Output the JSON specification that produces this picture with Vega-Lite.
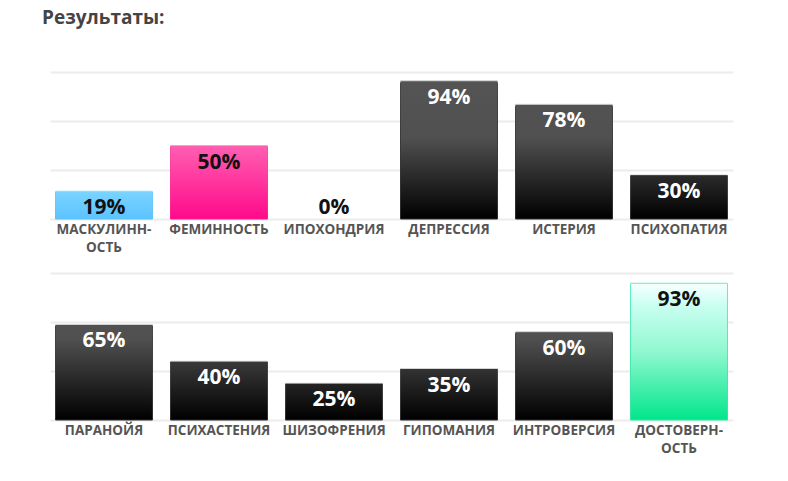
{
  "$schema": "https://vega.github.io/schema/vega-lite/v6.json",
  "padding": {"left": 42, "top": 9, "right": 10, "bottom": 5},
  "background": "white",
  "title": {"text": "Результаты:", "anchor": "start", "fontSize": 19, "font": "Open Sans", "fontWeight": "bold", "color": "#444444", "dx": -8, "offset": 44},
  "data": {"values": [
    {"row": 1, "name": "МАСКУЛИННОСТЬ", "value": 0.19},
    {"row": 1, "name": "ФЕМИННОСТЬ", "value": 0.50},
    {"row": 1, "name": "ИПОХОНДРИЯ", "value": 0.0},
    {"row": 1, "name": "ДЕПРЕССИЯ", "value": 0.94},
    {"row": 1, "name": "ИСТЕРИЯ", "value": 0.78},
    {"row": 1, "name": "ПСИХОПАТИЯ", "value": 0.30},
    {"row": 2, "name": "ПАРАНОЙЯ", "value": 0.65},
    {"row": 2, "name": "ПСИХАСТЕНИЯ", "value": 0.40},
    {"row": 2, "name": "ШИЗОФРЕНИЯ", "value": 0.25},
    {"row": 2, "name": "ГИПОМАНИЯ", "value": 0.35},
    {"row": 2, "name": "ИНТРОВЕРСИЯ", "value": 0.60},
    {"row": 2, "name": "ДОСТОВЕРНОСТЬ", "value": 0.93}
  ]},
  "vconcat": [
    {
      "width": 683, "height": 147,
      "transform": [{"filter": "datum.row == 1"}],
      "encoding": {
        "x": {"field": "name", "type": "nominal", "sort": ["МАСКУЛИННОСТЬ", "ФЕМИННОСТЬ", "ИПОХОНДРИЯ", "ДЕПРЕССИЯ", "ИСТЕРИЯ", "ПСИХОПАТИЯ"],
              "scale": {"domain": ["МАСКУЛИННОСТЬ", "ФЕМИННОСТЬ", "ИПОХОНДРИЯ", "ДЕПРЕССИЯ", "ИСТЕРИЯ", "ПСИХОПАТИЯ"], "paddingInner": 0.157, "paddingOuter": 0.048},
              "axis": {"title": null, "ticks": false, "domain": false, "labelAngle": 0, "labelFont": "Open Sans", "labelFontWeight": "bold", "labelFontSize": 13.5, "labelColor": "#555555", "labelPadding": 3, "labelLineHeight": 18,
                       "labelExpr": "datum.value == 'МАСКУЛИННОСТЬ' ? ['МАСКУЛИНН-', 'ОСТЬ'] : datum.value == 'ДОСТОВЕРНОСТЬ' ? ['ДОСТОВЕРН-', 'ОСТЬ'] : datum.value"}},
        "y": {"field": "value", "type": "quantitative", "scale": {"domain": [0, 1], "nice": false},
              "axis": {"title": null, "labels": false, "ticks": false, "domain": false, "values": [0, 0.33333, 0.66667, 1], "gridColor": "#ececec", "gridWidth": 2}}
      },
      "layer": [
        {
          "transform": [{"filter": "datum.value > 0"}],
          "mark": {"type": "bar", "strokeWidth": 1},
          "encoding": {
            "fill": {"condition": [
              {"test": "datum.name === 'МАСКУЛИННОСТЬ'", "value": {"gradient": "linear", "x1": 0, "y1": 0, "x2": 0, "y2": 1, "stops": [{"offset": 0, "color": "#7ad4ff"}, {"offset": 1, "color": "#5cc3ff"}]}},
              {"test": "datum.name === 'ФЕМИННОСТЬ'", "value": {"gradient": "linear", "x1": 0, "y1": 0, "x2": 0, "y2": 1, "stops": [{"offset": 0, "color": "#ff5fb2"}, {"offset": 1, "color": "#ff0a8a"}]}},
              {"test": "datum.name === 'ДЕПРЕССИЯ'", "value": {"gradient": "linear", "x1": 0, "y1": -0.0638, "x2": 0, "y2": 1, "stops": [{"offset": 0, "color": "#555555"}, {"offset": 0.45, "color": "#505050"}, {"offset": 1, "color": "#000000"}]}},
              {"test": "datum.name === 'ИСТЕРИЯ'", "value": {"gradient": "linear", "x1": 0, "y1": -0.2821, "x2": 0, "y2": 1, "stops": [{"offset": 0, "color": "#555555"}, {"offset": 0.45, "color": "#505050"}, {"offset": 1, "color": "#000000"}]}}
            ], "value": {"gradient": "linear", "x1": 0, "y1": -2.3333, "x2": 0, "y2": 1, "stops": [{"offset": 0, "color": "#555555"}, {"offset": 0.45, "color": "#505050"}, {"offset": 1, "color": "#000000"}]}},
            "stroke": {"condition": [
              {"test": "datum.name === 'МАСКУЛИННОСТЬ'", "value": {"gradient": "linear", "x1": 0, "y1": 0, "x2": 0, "y2": 1, "stops": [{"offset": 0, "color": "#c0ecff"}, {"offset": 0.05, "color": "#6ccdff"}, {"offset": 1, "color": "#5cc0f5"}]}},
              {"test": "datum.name === 'ФЕМИННОСТЬ'", "value": {"gradient": "linear", "x1": 0, "y1": 0, "x2": 0, "y2": 1, "stops": [{"offset": 0, "color": "#ff9acf"}, {"offset": 0.03, "color": "#ff4aa8"}, {"offset": 1, "color": "#ff1a90"}]}}
            ], "value": {"gradient": "linear", "x1": 0, "y1": 0, "x2": 0, "y2": 1, "stops": [{"offset": 0, "color": "#d8d8d8"}, {"offset": 0.02, "color": "#444444"}, {"offset": 1, "color": "#2a2a2a"}]}}
          }
        },
        {
          "transform": [{"filter": "datum.value > 0"}],
          "mark": {"type": "text", "baseline": "middle", "dy": 17, "fontSize": 21, "font": "Open Sans", "fontWeight": "bold"},
          "encoding": {
            "text": {"field": "value", "type": "quantitative", "format": ".0%"},
            "color": {"condition": {"test": "datum.name === 'МАСКУЛИННОСТЬ' || datum.name === 'ФЕМИННОСТЬ' || datum.name === 'ДОСТОВЕРНОСТЬ'", "value": "#111111"}, "value": "#ffffff"}
          }
        },
        {
          "transform": [{"filter": "datum.value == 0"}],
          "mark": {"type": "text", "baseline": "middle", "dy": -11, "fontSize": 21, "font": "Open Sans", "fontWeight": "bold", "color": "#111111"},
          "encoding": {
            "text": {"field": "value", "type": "quantitative", "format": ".0%"}
          }
        }
      ]
    },
    {
      "width": 683, "height": 147,
      "transform": [{"filter": "datum.row == 2"}],
      "encoding": {
        "x": {"field": "name", "type": "nominal", "sort": ["ПАРАНОЙЯ", "ПСИХАСТЕНИЯ", "ШИЗОФРЕНИЯ", "ГИПОМАНИЯ", "ИНТРОВЕРСИЯ", "ДОСТОВЕРНОСТЬ"],
              "scale": {"domain": ["ПАРАНОЙЯ", "ПСИХАСТЕНИЯ", "ШИЗОФРЕНИЯ", "ГИПОМАНИЯ", "ИНТРОВЕРСИЯ", "ДОСТОВЕРНОСТЬ"], "paddingInner": 0.157, "paddingOuter": 0.048},
              "axis": {"title": null, "ticks": false, "domain": false, "labelAngle": 0, "labelFont": "Open Sans", "labelFontWeight": "bold", "labelFontSize": 13.5, "labelColor": "#555555", "labelPadding": 3, "labelLineHeight": 18,
                       "labelExpr": "datum.value == 'МАСКУЛИННОСТЬ' ? ['МАСКУЛИНН-', 'ОСТЬ'] : datum.value == 'ДОСТОВЕРНОСТЬ' ? ['ДОСТОВЕРН-', 'ОСТЬ'] : datum.value"}},
        "y": {"field": "value", "type": "quantitative", "scale": {"domain": [0, 1], "nice": false},
              "axis": {"title": null, "labels": false, "ticks": false, "domain": false, "values": [0, 0.33333, 0.66667, 1], "gridColor": "#ececec", "gridWidth": 2}}
      },
      "layer": [
        {
          "transform": [{"filter": "datum.value > 0"}],
          "mark": {"type": "bar", "strokeWidth": 1},
          "encoding": {
            "fill": {"condition": [
              {"test": "datum.name === 'ДОСТОВЕРНОСТЬ'", "value": {"gradient": "linear", "x1": 0, "y1": 0, "x2": 0, "y2": 1, "stops": [{"offset": 0, "color": "#f8ffff"}, {"offset": 0.15, "color": "#ccfff2"}, {"offset": 0.5, "color": "#90f8d0"}, {"offset": 1, "color": "#00e68a"}]}},
              {"test": "datum.name === 'ПАРАНОЙЯ'", "value": {"gradient": "linear", "x1": 0, "y1": -0.5385, "x2": 0, "y2": 1, "stops": [{"offset": 0, "color": "#555555"}, {"offset": 0.45, "color": "#505050"}, {"offset": 1, "color": "#000000"}]}},
              {"test": "datum.name === 'ПСИХАСТЕНИЯ'", "value": {"gradient": "linear", "x1": 0, "y1": -1.5, "x2": 0, "y2": 1, "stops": [{"offset": 0, "color": "#555555"}, {"offset": 0.45, "color": "#505050"}, {"offset": 1, "color": "#000000"}]}},
              {"test": "datum.name === 'ШИЗОФРЕНИЯ'", "value": {"gradient": "linear", "x1": 0, "y1": -3, "x2": 0, "y2": 1, "stops": [{"offset": 0, "color": "#555555"}, {"offset": 0.45, "color": "#505050"}, {"offset": 1, "color": "#000000"}]}},
              {"test": "datum.name === 'ГИПОМАНИЯ'", "value": {"gradient": "linear", "x1": 0, "y1": -1.8571, "x2": 0, "y2": 1, "stops": [{"offset": 0, "color": "#555555"}, {"offset": 0.45, "color": "#505050"}, {"offset": 1, "color": "#000000"}]}}
            ], "value": {"gradient": "linear", "x1": 0, "y1": -0.6667, "x2": 0, "y2": 1, "stops": [{"offset": 0, "color": "#555555"}, {"offset": 0.45, "color": "#505050"}, {"offset": 1, "color": "#000000"}]}},
            "stroke": {"condition": [
              {"test": "datum.name === 'ДОСТОВЕРНОСТЬ'", "value": {"gradient": "linear", "x1": 0, "y1": 0, "x2": 0, "y2": 1, "stops": [{"offset": 0, "color": "#60f0c0"}, {"offset": 1, "color": "#30e6a0"}]}}
            ], "value": {"gradient": "linear", "x1": 0, "y1": 0, "x2": 0, "y2": 1, "stops": [{"offset": 0, "color": "#d8d8d8"}, {"offset": 0.02, "color": "#444444"}, {"offset": 1, "color": "#2a2a2a"}]}}
          }
        },
        {
          "transform": [{"filter": "datum.value > 0"}],
          "mark": {"type": "text", "baseline": "middle", "dy": 17, "fontSize": 21, "font": "Open Sans", "fontWeight": "bold"},
          "encoding": {
            "text": {"field": "value", "type": "quantitative", "format": ".0%"},
            "color": {"condition": {"test": "datum.name === 'МАСКУЛИННОСТЬ' || datum.name === 'ФЕМИННОСТЬ' || datum.name === 'ДОСТОВЕРНОСТЬ'", "value": "#111111"}, "value": "#ffffff"}
          }
        }
      ]
    }
  ],
  "spacing": 54,
  "bounds": "flush",
  "config": {"view": {"stroke": null}}
}
